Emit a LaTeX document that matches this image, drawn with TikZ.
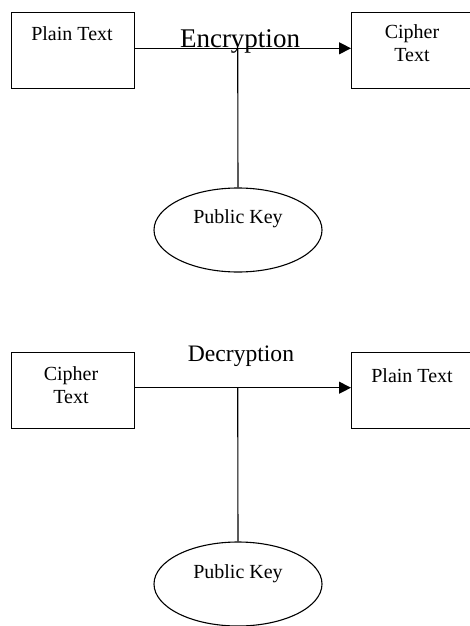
\documentclass[tikz,border=0pt]{standalone}
\usepackage{fontspec}
\setmainfont{Liberation Serif}
\usetikzlibrary{arrows.meta,shapes.geometric}
\begin{document}
\begin{tikzpicture}[x=1pt,y=-1pt,
  box/.style={draw, line width=1.1pt, minimum width=123pt, minimum height=76.6pt, inner sep=0pt, anchor=north west},
  rbox/.style={box, minimum width=135pt},
  key/.style={draw, ellipse, line width=1.1pt, minimum width=168pt, minimum height=84pt, inner sep=0pt},
  lbl/.style={font=\fontsize{20}{23}\selectfont, anchor=base, inner sep=0pt, align=center},
  conn/.style={line width=1.1pt},
  arr/.style={line width=1.1pt, -{Triangle[length=12pt,width=12pt]}}
]
\useasboundingbox (0,0) rectangle (469,626);
% ---------- Encryption ----------
\node[box] (ptA) at (10.7,11.7) {};
\node[rbox] (ctA) at (351,11.7) {};
\node[lbl] (ptAt) at (72,41) {Plain Text};
\node[lbl] (ctAt) at (412,62) {Cipher\\Text};
\coordinate (jA) at (237.7,48.3);
\draw[arr] (ptA.east |- jA) -- (ctA.west |- jA);
\node[font=\fontsize{27}{30}\selectfont, anchor=base, inner sep=0pt] (enc) at (240,47.3) {Encryption};
\node[key] (keyA) at (238,230) {};
\node[lbl] (keyAt) at (238,223) {Public Key};
\draw[conn] (jA) -- (keyA.north);
% ---------- Decryption ----------
\node[box] (ctB) at (10.7,351.7) {};
\node[rbox] (ptB) at (351,351.7) {};
\node[lbl] (ctBt) at (71,403) {Cipher\\Text};
\node[lbl] (ptBt) at (412,382) {Plain Text};
\coordinate (jB) at (237.7,387.7);
\draw[arr] (ctB.east |- jB) -- (ptB.west |- jB);
\node[font=\fontsize{23.6}{26}\selectfont, anchor=base, inner sep=0pt] (dec) at (241,361.7) {Decryption};
\node[key] (keyB) at (238,584) {};
\node[lbl] (keyBt) at (238,578) {Public Key};
\draw[conn] (jB) -- (keyB.north);
\end{tikzpicture}
\end{document}
